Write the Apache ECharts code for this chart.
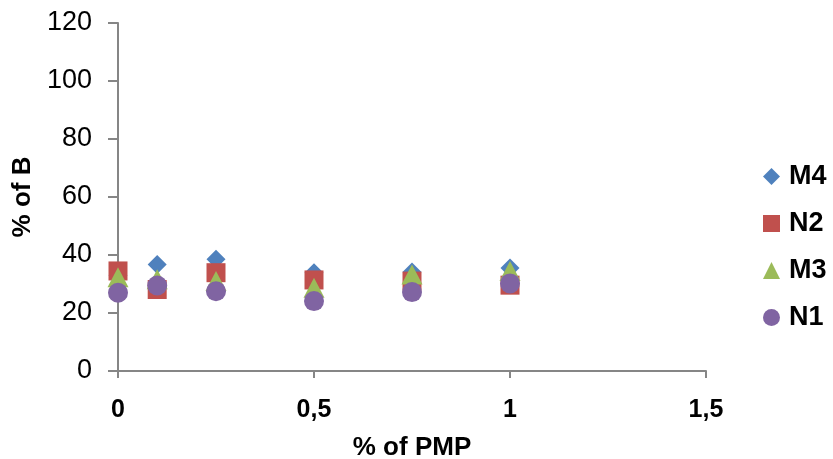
<!DOCTYPE html>
<html><head><meta charset="utf-8">
<script src="https://cdn.jsdelivr.net/npm/echarts@6/dist/echarts.min.js"></script>
<style>html,body{margin:0;padding:0;background:#fff}#c{width:833px;height:459px}</style>
</head><body><div id="c"></div>
<script>
const xValues = [0, 0.1, 0.25, 0.5, 0.75, 1];
const seriesNames = ['M4', 'N2', 'M3', 'N1'];
const M4 = [33, 36.7, 38.5, 33.9, 34.1, 35.5];
const N2 = [34.5, 28.1, 33.9, 31.4, 31, 29.6];
const M3 = [32.3, 31.6, 31, 28.7, 33.3, 34.5];
const N1 = [27, 29.5, 27.5, 24.1, 27.2, 30.2];
const values = [M4, N2, M3, N1];
const colors = ['#4F81BD', '#C0504D', '#9BBB59', '#8064A2'];
const symbols = ['diamond', 'rect', 'triangle', 'circle'];
const symbolSizes = [[19, 19], [19, 19], [21, 20], [20, 20]];
const legendIcons = ['diamond', 'rect', 'triangle', 'circle'];

const chart = echarts.init(document.getElementById('c'), null, {renderer: 'canvas'});
const font = '"Liberation Sans", Arial, sans-serif';
chart.setOption({
  animation: false,
  textStyle: {fontFamily: font},
  grid: {left: 118, right: 127, top: 23, bottom: 88, containLabel: false, outerBoundsMode: 'none'},
  xAxis: {
    type: 'value', min: 0, max: 1.5, interval: 0.5,
    name: '% of PMP', nameLocation: 'middle', nameGap: 64,
    nameTextStyle: {fontSize: 26, fontWeight: 'bold', color: '#000', fontFamily: font},
    axisLine: {show: true, onZero: false, lineStyle: {color: '#868686', width: 2}},
    axisTick: {show: true, length: 7, lineStyle: {color: '#868686', width: 2}},
    axisLabel: {fontSize: 25, fontWeight: 'bold', color: '#000', margin: 27, fontFamily: font,
      formatter: v => String(v).replace('.', ',')},
    splitLine: {show: false}
  },
  yAxis: {
    type: 'value', min: 0, max: 120, interval: 20,
    name: '% of B', nameLocation: 'middle', nameGap: 82, nameRotate: 90,
    nameTextStyle: {fontSize: 26, fontWeight: 'bold', color: '#000', fontFamily: font},
    axisLine: {show: true, lineStyle: {color: '#868686', width: 2}},
    axisTick: {show: true, length: 10, lineStyle: {color: '#868686', width: 2}},
    axisLabel: {fontSize: 27, color: '#000', margin: 26, fontFamily: font},
    splitLine: {show: false}
  },
  legend: {
    orient: 'vertical', left: 758, top: 158,
    itemWidth: 17, itemHeight: 17, itemGap: 20,
    textStyle: {fontSize: 27, fontWeight: 'bold', color: '#000', fontFamily: font, lineHeight: 27, padding: [0, 0, 0, 4]},
    data: seriesNames.map((n, i) => ({name: n, icon: legendIcons[i]}))
  },
  series: seriesNames.map((n, i) => ({
    name: n, type: 'scatter',
    symbol: symbols[i], symbolSize: symbolSizes[i],
    itemStyle: {color: colors[i], opacity: 1},
    data: xValues.map((x, j) => [x, values[i][j]])
  }))
});
</script></body></html>
